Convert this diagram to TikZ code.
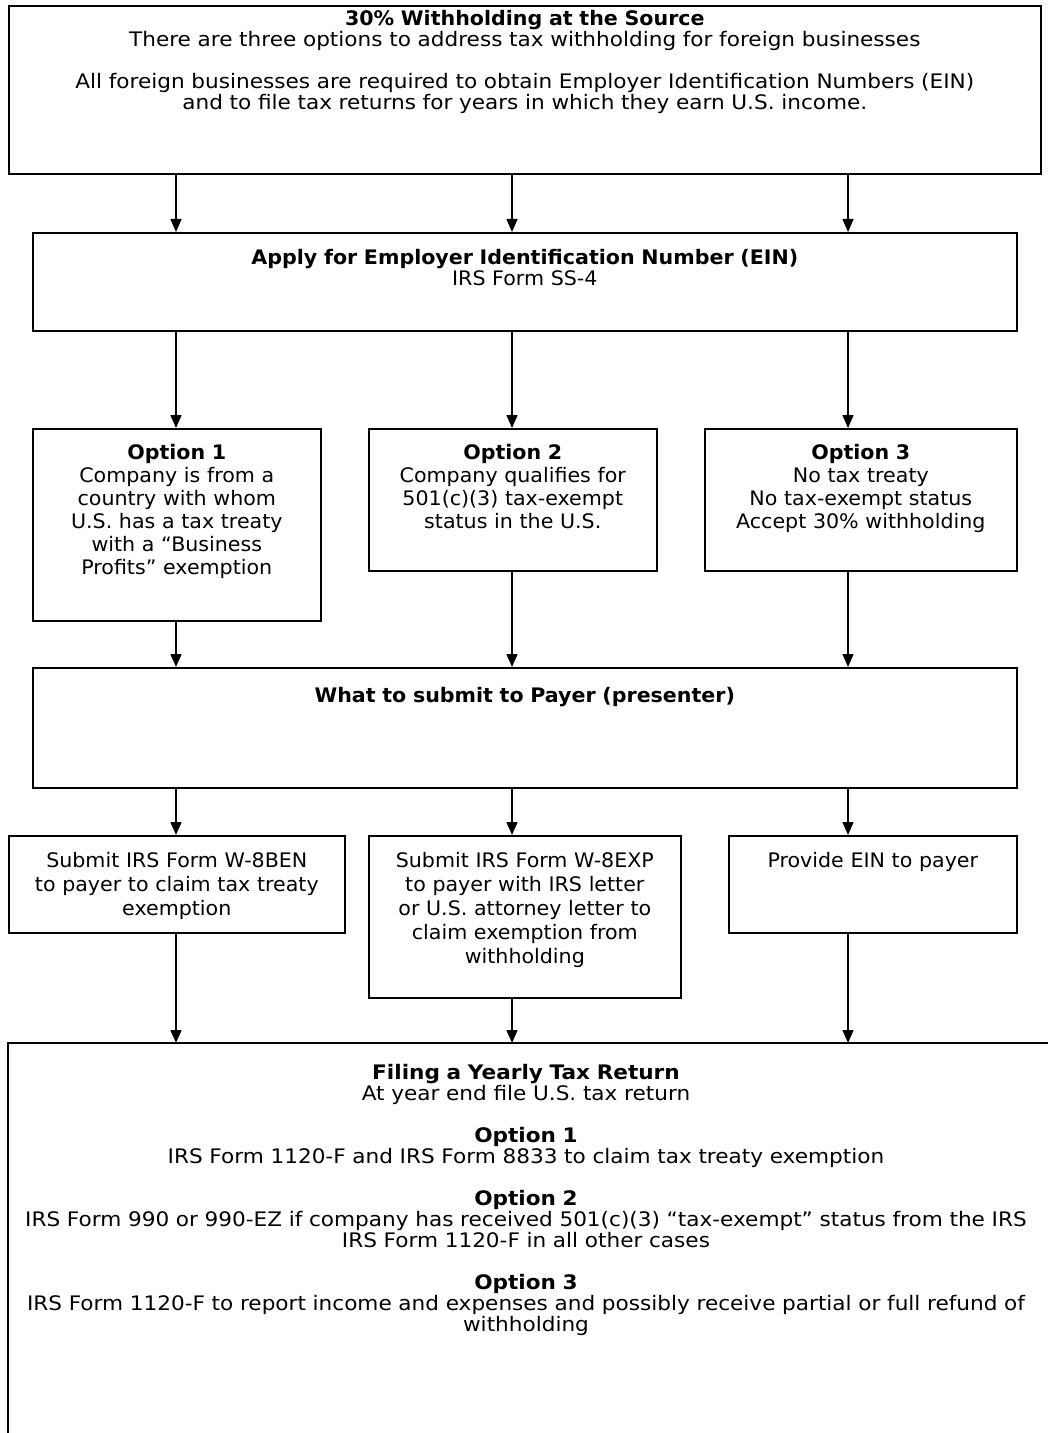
\documentclass[tikz,border=0pt]{standalone}
\usepackage{fontspec}
\setmainfont[FakeStretch=1.03]{DejaVu Sans}
\newfontfamily\widefont[FakeStretch=1.08]{DejaVu Sans}
\usetikzlibrary{arrows.meta}

\begin{document}
\begin{tikzpicture}[x=0.5pt,y=-0.5pt,
  boxtext/.style={anchor=north west,inner sep=0pt,align=center,
    font=\fontsize{10pt}{#1}\selectfont},
  boxtext/.default=11.5pt,
  box/.style={boxtext=#1,draw,line width=0.8pt},
  box/.default=11.5pt,
  flow/.style={line width=0.8pt,-{Triangle[width=5.5pt,length=6.5pt]}}]

\useasboundingbox (0,0) rectangle (1048,1433);
\clip (0,0) rectangle (1048,1433);

% arrow columns
\coordinate (c1) at (176,0);
\coordinate (c2) at (512,0);
\coordinate (c3) at (848,0);

\node[box=10.5pt,text width=516pt,text height=10pt,text depth=74pt] (source) at (8,5)
  {\textbf{30\% Withholding at the Source}\\
   \widefont There are three options to address tax withholding for foreign businesses\\[10.5pt]
   All foreign businesses are required to obtain Employer Identification Numbers (EIN)\\
   and to file tax returns for years in which they earn U.S. income.};

\node[box=10.5pt,text width=492pt,text height=16pt,text depth=33pt] (ein) at (32,232)
  {\textbf{Apply for Employer Identification Number (EIN)}\\IRS Form SS-4};

\node[box,text width=144pt,text height=15.5pt,text depth=80.5pt] (opt1) at (32,428)
  {\textbf{Option 1}\\Company is from a\\country with whom\\U.S. has a tax treaty\\
   with a “Business\\Profits” exemption};
\node[box,text width=144pt,text height=15.5pt,text depth=55.5pt] (opt2) at (368,428)
  {\textbf{Option 2}\\Company qualifies for\\501(c)(3) tax-exempt\\status in the U.S.};
\node[box,text width=156pt,text height=15.5pt,text depth=55.5pt] (opt3) at (704,428)
  {\textbf{Option 3}\\No tax treaty\\No tax-exempt status\\Accept 30\% withholding};

\node[box,text width=492pt,text height=17.5pt,text depth=42.5pt] (submit) at (32,667)
  {\textbf{What to submit to Payer (presenter)}};

\node[box=12pt,text width=168pt,text height=16pt,text depth=32.5pt] (form1) at (8,835)
  {Submit IRS Form W-8BEN\\to payer to claim tax treaty\\exemption};
\node[box=12pt,text width=156pt,text height=16pt,text depth=65pt] (form2) at (368,835)
  {Submit IRS Form W-8EXP\\to payer with IRS letter\\or U.S. attorney letter to\\
   claim exemption from\\withholding};
\node[box=12pt,text width=144pt,text height=16pt,text depth=32.5pt] (form3) at (728,835)
  {Provide EIN to payer};

% last box runs off the page on the right and at the bottom
\node[boxtext=10.5pt,anchor=north,text width=540pt,text height=18pt,text depth=170pt] (filing) at (526,1043)
  {\widefont\textbf{Filing a Yearly Tax Return}\\At year end file U.S. tax return\\[10.5pt]
   \textbf{Option 1}\\IRS Form 1120-F and IRS Form 8833 to claim tax treaty exemption\\[10.5pt]
   \textbf{Option 2}\\IRS Form 990 or 990-EZ if company has received 501(c)(3) “tax-exempt” status from the IRS\\
   IRS Form 1120-F in all other cases\\[10.5pt]
   \textbf{Option 3}\\IRS Form 1120-F to report income and expenses and possibly receive partial or full refund of\\
   withholding};
\draw[line width=0.8pt] (1060,1043) -- (8,1043) -- (8,1450);

\foreach \c/\o/\f in {c1/opt1/form1,c2/opt2/form2,c3/opt3/form3}{
  \draw[flow] (\c |- source.south) -- (\c |- ein.north);
  \draw[flow] (\c |- ein.south) -- (\c |- \o.north);
  \draw[flow] (\c |- \o.south) -- (\c |- submit.north);
  \draw[flow] (\c |- submit.south) -- (\c |- \f.north);
  \draw[flow] (\c |- \f.south) -- (\c |- filing.north);}
\end{tikzpicture}
\end{document}
